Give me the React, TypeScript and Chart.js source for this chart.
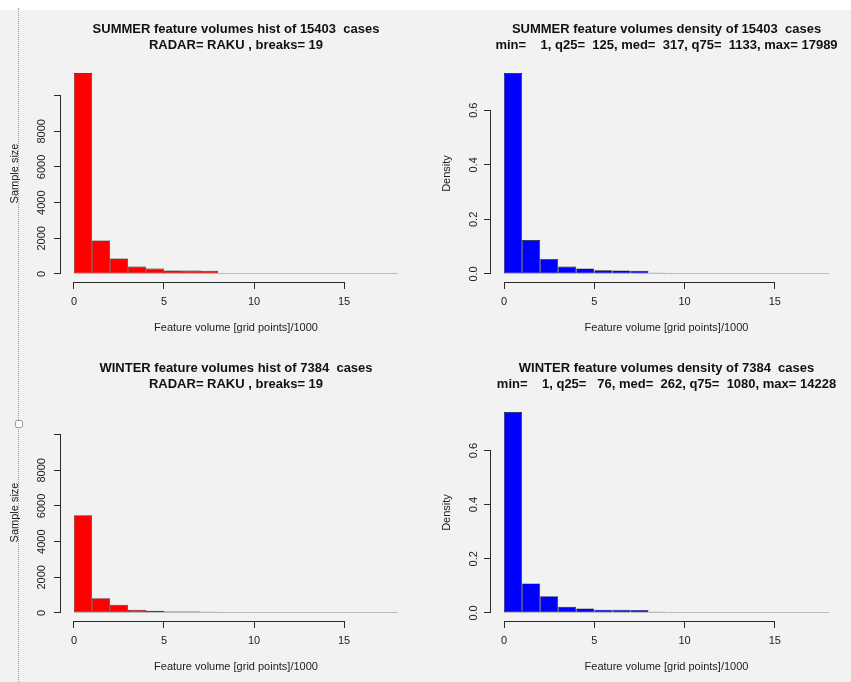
import React, { useEffect, useRef } from "react";
import { Chart, registerables } from "chart.js";

Chart.register(...registerables);

// ---------------- data ----------------
const breaks = [0, 1, 2, 3, 4, 5, 6, 7, 8, 9, 10, 11, 12, 13, 14, 15, 16, 17, 18];
const xTicks = [0, 5, 10, 15];
const histYTicks = [0, 2000, 4000, 6000, 8000, 10000];
const densYTicks = [0, 0.2, 0.4, 0.6];

const summerCounts = [11270, 1880, 870, 415, 300, 200, 190, 175, 60, 15, 10, 6, 4, 3, 2, 1, 1, 1];
const winterCounts = [5480, 830, 460, 175, 120, 85, 82, 75, 30, 20, 7, 5, 4, 3, 3, 2, 2, 1];
const summerDensity = [0.736, 0.124, 0.055, 0.027, 0.02, 0.0135, 0.0128, 0.0118, 0.0045, 0.0012, 0.0007, 0.0005, 0.0003, 0.0002, 0.0001, 0.0001, 0.0001, 0.0001];
const winterDensity = [0.742, 0.109, 0.062, 0.023, 0.0165, 0.012, 0.0115, 0.011, 0.0045, 0.0035, 0.001, 0.0008, 0.0006, 0.0005, 0.0004, 0.0002, 0.0002, 0.0001];

const summerHistTitle = ["SUMMER feature volumes hist of 15403  cases", "RADAR= RAKU , breaks= 19"];
const summerDensTitle = ["SUMMER feature volumes density of 15403  cases", "min=    1, q25=  125, med=  317, q75=  1133, max= 17989"];
const winterHistTitle = ["WINTER feature volumes hist of 7384  cases", "RADAR= RAKU , breaks= 19"];
const winterDensTitle = ["WINTER feature volumes density of 7384  cases", "min=    1, q25=   76, med=  262, q75=  1080, max= 14228"];

const xLabel = "Feature volume [grid points]/1000";
const histYLabel = "Sample size";
const densYLabel = "Density";

// ---------------- styling ----------------
const FONT = "'Liberation Sans', Arial, Helvetica, sans-serif";
Chart.defaults.font.family = FONT;

const rAxes = {
  id: "rAxes",
  afterDraw(chart: any, _args: any, opts: any) {
    const { ctx, chartArea } = chart;
    const xs = chart.scales.x;
    const ys = chart.scales.y;
    const xt: number[] = opts.xTicks;
    const yt: number[] = opts.yTicks;
    ctx.save();
    ctx.strokeStyle = "#2a2a2a";
    ctx.lineWidth = 1;
    ctx.beginPath();
    const yb = Math.round(chartArea.bottom) + 0.5;
    ctx.moveTo(xs.getPixelForValue(xt[0]), yb);
    ctx.lineTo(xs.getPixelForValue(xt[xt.length - 1]), yb);
    const xl = Math.round(chartArea.left) - 0.5;
    ctx.moveTo(xl, ys.getPixelForValue(yt[0]));
    ctx.lineTo(xl, ys.getPixelForValue(yt[yt.length - 1]));
    ctx.stroke();
    ctx.restore();
  },
};

type Spec = {
  values: number[];
  color: string;
  yMax: number;
  yTicks: number[];
  yFmt: (v: number) => string;
  yTitle: string;
  title: string[];
  yWidth: number;
  padRight: number;
  yTickPad: number;
  yTitlePad: number;
};

function makeConfig(s: Spec): any {
  const data = s.values.map((v, i) => ({ x: (breaks[i] + breaks[i + 1]) / 2, y: v }));
  const span = breaks[breaks.length - 1] - breaks[0];
  const xMin = breaks[0] - 0.04 * span;
  const xMax = breaks[breaks.length - 1] + 0.04 * span;
  return {
    type: "bar",
    data: {
      datasets: [
        {
          data,
          backgroundColor: s.color,
          borderColor: "#151515",
          borderWidth: 0.6,
          borderSkipped: false,
          inflateAmount: 0,
          barPercentage: 1,
          categoryPercentage: 1,
          minBarLength: 1,
        },
      ],
    },
    options: {
      responsive: false,
      animation: false,
      layout: { padding: { left: 0, right: s.padRight, top: 0, bottom: 0 } },
      plugins: {
        legend: { display: false },
        tooltip: { enabled: false },
        title: {
          display: true,
          text: s.title,
          fullSize: false,
          color: "#111",
          font: { family: FONT, size: 13, weight: "bold", lineHeight: 1.2 },
          padding: { top: 21.7, bottom: 12.1 },
        },
        rAxes: { xTicks, yTicks: s.yTicks },
      },
      scales: {
        x: {
          type: "linear",
          position: "bottom",
          min: xMin,
          max: xMax,
          offset: false,
          afterFit: (sc: any) => {
            sc.height = 58;
          },
          afterBuildTicks: (sc: any) => {
            sc.ticks = xTicks.map((v) => ({ value: v }));
          },
          border: { display: false },
          grid: { display: true, offset: false, drawOnChartArea: false, drawTicks: true, tickLength: 7, color: "#2a2a2a", lineWidth: 1 },
          ticks: {
            autoSkip: false,
            maxRotation: 0,
            minRotation: 0,
            padding: 6.4,
            color: "#222",
            font: { family: FONT, size: 11, lineHeight: 1.2 },
            callback: (v: number) => String(v),
          },
          title: {
            display: true,
            text: xLabel,
            color: "#222",
            font: { family: FONT, size: 11, lineHeight: 1.2 },
            padding: { top: 0, bottom: 5.4 },
          },
        },
        y: {
          type: "linear",
          position: "left",
          min: -0.04 * s.yMax,
          max: 1.04 * s.yMax,
          afterFit: (sc: any) => {
            sc.width = s.yWidth;
          },
          afterBuildTicks: (sc: any) => {
            sc.ticks = s.yTicks.map((v) => ({ value: v }));
          },
          border: { display: false },
          grid: { display: true, drawOnChartArea: false, drawTicks: true, tickLength: 7, color: "#2a2a2a", lineWidth: 1 },
          ticks: {
            autoSkip: false,
            minRotation: 90,
            maxRotation: 90,
            crossAlign: "center",
            padding: s.yTickPad,
            color: "#222",
            font: { family: FONT, size: 11, lineHeight: 1.2 },
            callback: (v: number) => s.yFmt(v),
          },
          title: {
            display: true,
            text: s.yTitle,
            color: "#222",
            font: { family: FONT, size: 11, lineHeight: 1.2 },
            padding: { top: s.yTitlePad, bottom: 0 },
          },
        },
      },
    },
    plugins: [rAxes],
  };
}

function Panel({ left, top, width, height, spec }: { left: number; top: number; width: number; height: number; spec: Spec }) {
  const ref = useRef<HTMLCanvasElement>(null);
  useEffect(() => {
    const chart = new Chart(ref.current as HTMLCanvasElement, makeConfig(spec));
    return () => chart.destroy();
  }, []);
  return (
    <canvas
      ref={ref}
      width={width}
      height={height}
      style={{ position: "absolute", left, top, width, height }}
    />
  );
}

const histMax = Math.max(...summerCounts);
const histFmt = (v: number) => (v === histYTicks[histYTicks.length - 1] ? "" : String(v));
const densFmt = (v: number) => v.toFixed(1);

export default function App() {
  const tl: Spec = {
    values: summerCounts, color: "#ff0000", yMax: histMax, yTicks: histYTicks, yFmt: histFmt,
    yTitle: histYLabel, title: summerHistTitle, yWidth: 61, padRight: 14, yTickPad: 0, yTitlePad: 8.6,
  };
  const tr: Spec = {
    values: summerDensity, color: "#0000ff", yMax: Math.max(...summerDensity), yTicks: densYTicks, yFmt: densFmt,
    yTitle: densYLabel, title: summerDensTitle, yWidth: 66, padRight: 9, yTickPad: 2.4, yTitlePad: 15.1,
  };
  const bl: Spec = {
    values: winterCounts, color: "#ff0000", yMax: histMax, yTicks: histYTicks, yFmt: histFmt,
    yTitle: histYLabel, title: winterHistTitle, yWidth: 61, padRight: 14, yTickPad: 0, yTitlePad: 8.6,
  };
  const br: Spec = {
    values: winterDensity, color: "#0000ff", yMax: Math.max(...winterDensity), yTicks: densYTicks, yFmt: densFmt,
    yTitle: densYLabel, title: winterDensTitle, yWidth: 66, padRight: 9, yTickPad: 2.4, yTitlePad: 15.1,
  };
  return (
    <div style={{ position: "absolute", left: 0, top: 0, width: 851, height: 682, background: "#f2f2f2", overflow: "hidden" }}>
      <div style={{ position: "absolute", left: 0, top: 0, width: 851, height: 10, background: "#ffffff" }} />
      <div style={{ position: "absolute", left: 18, top: 8, height: 674, borderLeft: "1px dotted #9a9a9a" }} />
      <div style={{ position: "absolute", left: 15, top: 420, width: 6, height: 6, border: "1px solid #9a9a9a", borderRadius: 2, background: "#fff" }} />
      <Panel left={0} top={0} width={425} height={340} spec={tl} />
      <Panel left={425} top={0} width={426} height={340} spec={tr} />
      <Panel left={0} top={339} width={425} height={340} spec={bl} />
      <Panel left={425} top={339} width={426} height={340} spec={br} />
    </div>
  );
}
